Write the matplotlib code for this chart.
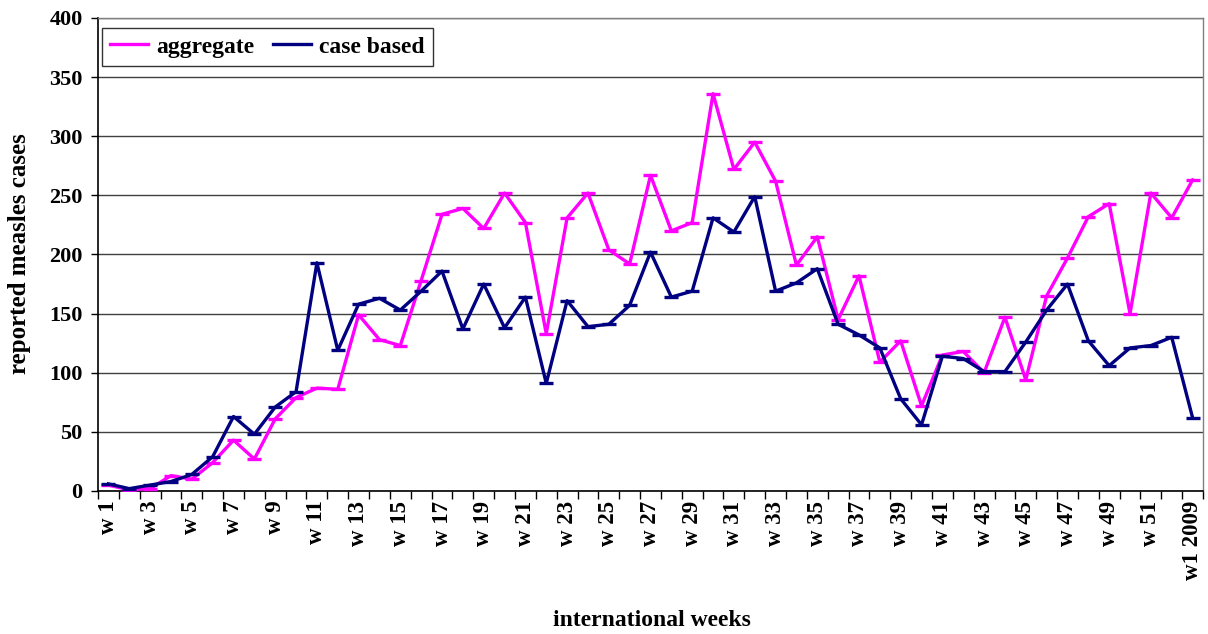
import matplotlib
matplotlib.use("Agg")
import matplotlib.pyplot as plt
from matplotlib.ticker import FixedLocator

weeks = [f"w {i}" for i in range(1, 53)] + ["w1 2009"]
aggregate = [5, 1, 2, 13, 10, 24, 43, 27, 61, 79, 87, 86, 149, 128, 123, 178, 234, 239, 222, 252,
             227, 133, 231, 252, 204, 192, 267, 220, 227, 336, 272, 295, 262, 191, 215, 145, 182,
             109, 127, 72, 115, 118, 100, 147, 94, 165, 197, 232, 243, 150, 252, 231, 263]
case_based = [6, 2, 5, 8, 14, 29, 63, 48, 71, 84, 193, 119, 158, 163, 153, 169, 186, 137, 175, 138,
              164, 91, 161, 139, 141, 157, 202, 164, 169, 231, 219, 249, 169, 176, 188, 141, 132,
              121, 78, 56, 114, 112, 101, 101, 126, 153, 175, 127, 106, 121, 123, 130, 62]
y_ticks = [0, 50, 100, 150, 200, 250, 300, 350, 400]

plt.rcParams['font.family'] = ['Liberation Serif', 'DejaVu Serif']
plt.rcParams['font.weight'] = 'bold'

W, H = 1208, 634
fig = plt.figure(figsize=(W / 100, H / 100), dpi=100)
ax = fig.add_axes([98 / W, 1 - 491 / H, (1203 - 98) / W, (491 - 18) / H])

x = list(range(len(weeks)))
ax.plot(x, aggregate, color='#FF00FF', lw=2.4, marker='_', ms=10, mew=2.4, label='aggregate', zorder=3)
ax.plot(x, case_based, color='#000080', lw=2.4, marker='_', ms=10, mew=2.4, label='case based', zorder=4)

ax.set_xlim(-0.5, len(weeks) - 0.5)
ax.set_ylim(0, 400)
ax.set_yticks(y_ticks)
ax.set_yticklabels([str(v) for v in y_ticks], fontsize=16, fontweight='bold')
ax.yaxis.grid(True, color='#404040', lw=1)
ax.set_axisbelow(True)

# category boundary ticks
ax.xaxis.set_major_locator(FixedLocator([i - 0.5 for i in range(len(weeks) + 1)]))
ax.xaxis.set_major_formatter(plt.NullFormatter())
ax.tick_params(axis='x', which='major', length=6, width=1, direction='out', color='black')
lab_pos = list(range(0, len(weeks), 2))
ax.xaxis.set_minor_locator(FixedLocator(lab_pos))
ax.set_xticklabels([weeks[i] for i in lab_pos], minor=True, rotation=90, fontsize=16.5,
                   fontweight='bold', va='top', ha='center')
ax.tick_params(axis='x', which='minor', length=0, pad=7)
ax.tick_params(axis='y', length=5, width=1, direction='out', pad=6)

for s in ['left', 'bottom']:
    ax.spines[s].set_color('black')
    ax.spines[s].set_linewidth(1.2)
for s in ['top', 'right']:
    ax.spines[s].set_color('#808080')
    ax.spines[s].set_linewidth(1)

leg = ax.legend(loc='upper left', ncol=2, frameon=True, fancybox=False, edgecolor='black',
                prop={'family': 'Liberation Serif', 'weight': 'bold', 'size': 17},
                handlelength=1.6, handletextpad=0.35, columnspacing=0.8, borderpad=0.35,
                borderaxespad=0, bbox_to_anchor=(0.0036, 0.979))
leg.get_frame().set_linewidth(1)
for h in leg.get_lines():
    h.set_marker('')
    h.set_linewidth(2.4)

fig.text(20 / W, 1 - 254 / H, 'reported measles cases', rotation=90, ha='center', va='center',
         fontsize=18, fontweight='bold')
fig.text(652 / W, 1 - 620 / H, 'international weeks', ha='center', va='center',
         fontsize=17, fontweight='bold')

fig.savefig('out.png', dpi=100)
